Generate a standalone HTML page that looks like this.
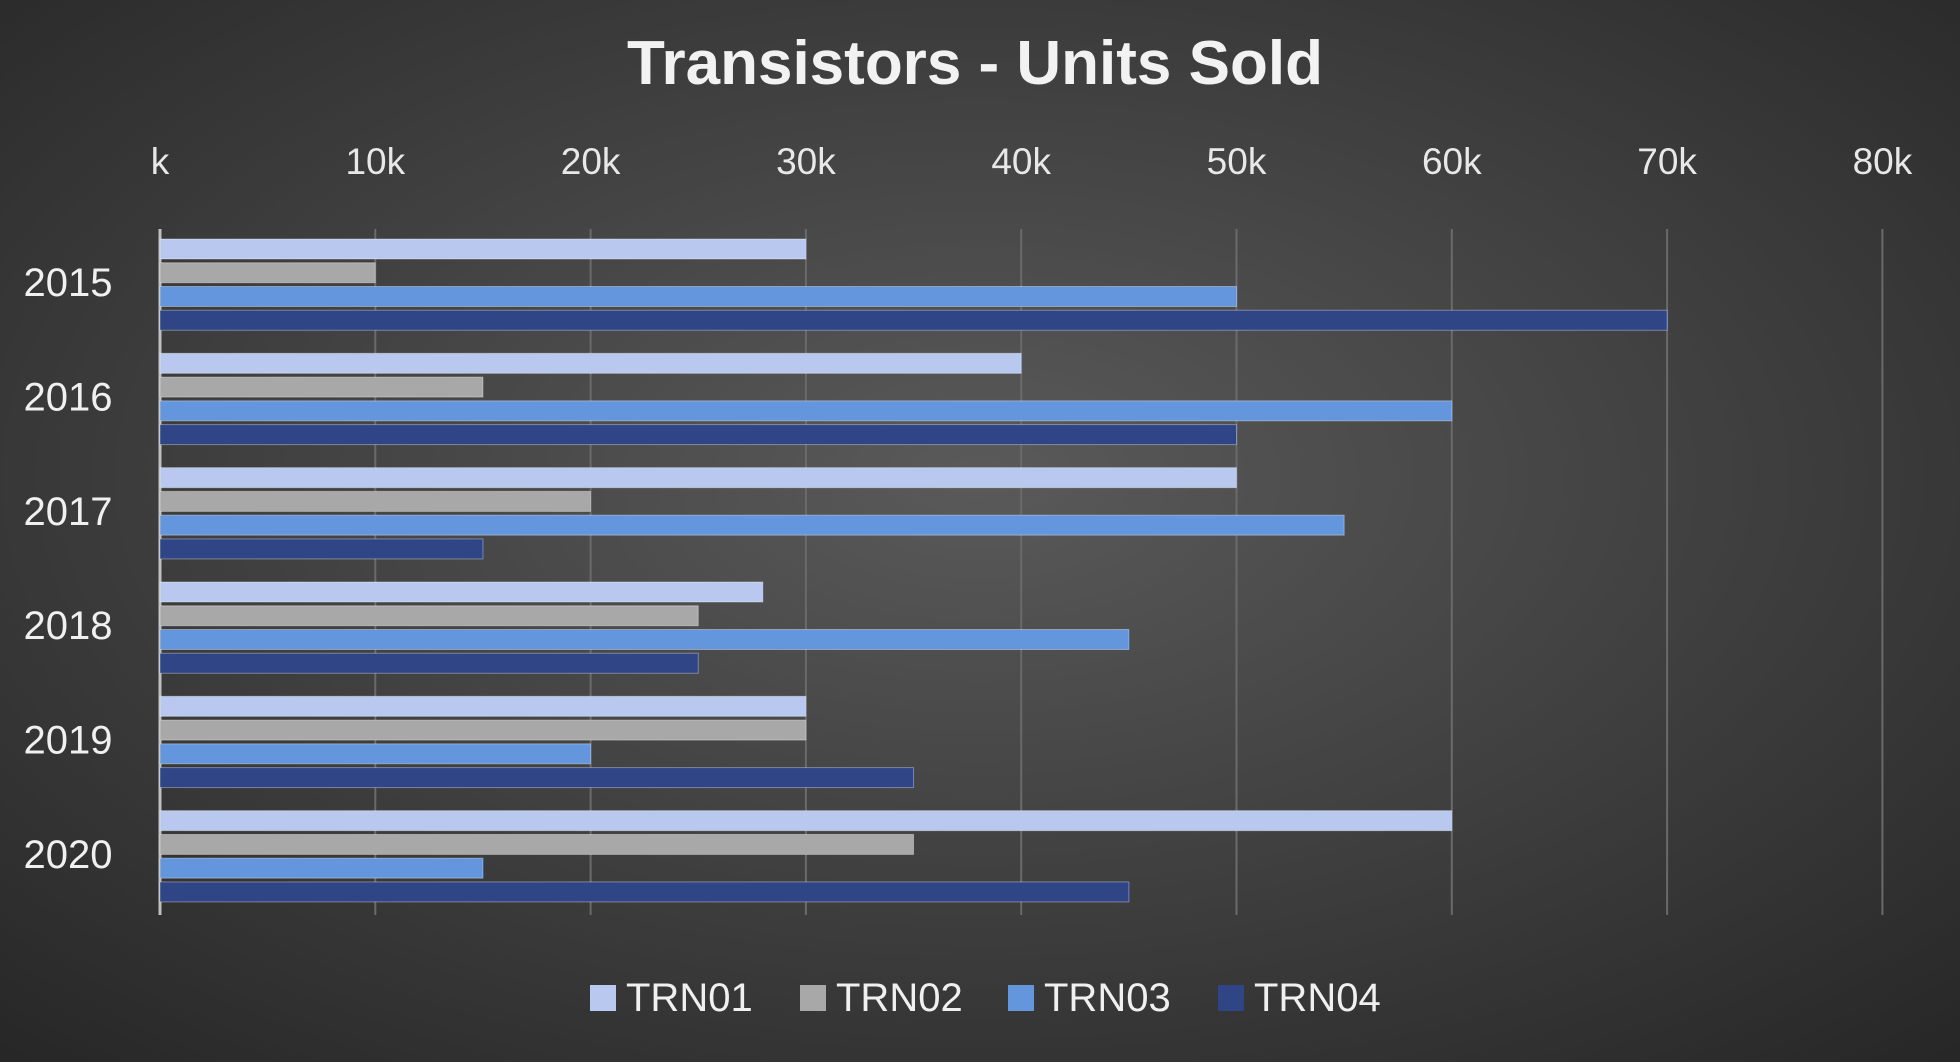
<!DOCTYPE html>
<html><head><meta charset="utf-8">
<style>
html,body{margin:0;padding:0;}
body{width:1960px;height:1062px;overflow:hidden;background:#333;}
svg{display:block;font-family:"Liberation Sans",sans-serif;}
</style></head>
<body>
<svg id="chart" width="1960" height="1062">
<defs>
<radialGradient id="bg" cx="50%" cy="45%" r="75%">
<stop offset="0" stop-color="#5a5a5a"/><stop offset="1" stop-color="#262626"/>
</radialGradient>
</defs>
<rect width="1960" height="1062" fill="url(#bg)"/>
<text x="975" y="84" text-anchor="middle" font-size="62" font-weight="bold" fill="#f2f2f2">Transistors - Units Sold</text>
<g id="grid"></g><g id="bars"></g><g id="labels"></g><g id="legend"></g>
</svg>
<script>
const categories = ["2015","2016","2017","2018","2019","2020"];
const seriesNames = ["TRN01","TRN02","TRN03","TRN04"];
const trn01 = [30,40,50,28,30,60];
const trn02 = [10,15,20,25,30,35];
const trn03 = [50,60,55,45,20,15];
const trn04 = [70,50,15,25,35,45];
const tickValues = [0,10,20,30,40,50,60,70,80];
const tickLabels = ["k","10k","20k","30k","40k","50k","60k","70k","80k"];
const colors = ["#b9c8ee","#a8a8a8","#6396dc","#2f4586"];
const series = [trn01,trn02,trn03,trn04];
const NS="http://www.w3.org/2000/svg";
const x0=160, xPer=215.3, yTop=229, yBottom=915;
const band=(yBottom-yTop)/categories.length;
function xs(v){return x0+v*xPer/10;}
function mk(t,a,p){const e=document.createElementNS(NS,t);for(const k in a)e.setAttribute(k,a[k]);p.appendChild(e);return e;}
const grid=document.getElementById('grid'),bars=document.getElementById('bars'),labels=document.getElementById('labels'),legend=document.getElementById('legend');
tickValues.forEach((v,i)=>{
  const l=mk('line',{x1:xs(v),x2:xs(v),y1:yTop,y2:yBottom,stroke:i==0?'#bfbfbf':'#6a6a6a','stroke-width':i==0?3:2},grid);
  
  
  const t=mk('text',{x:xs(v),y:174,'text-anchor':'middle','font-size':37,fill:'#e8e8e8'},labels);
  t.textContent=tickLabels[i];
  
  
});
categories.forEach((c,ci)=>{
  const bt=yTop+ci*band;
  const t=mk('text',{x:68,y:bt+band/2+10,'text-anchor':'middle','font-size':40,fill:'#f0f0f0'},labels);
  t.textContent=c;
  
  
  series.forEach((s,si)=>{
    const y=bt+10+si*23.75;
    const r=mk('rect',{x:x0,y:y,width:xs(s[ci])-x0,height:20,fill:colors[si],stroke:'rgba(255,255,255,0.35)','stroke-width':1},bars);
    
    
  });
});
const lx=[590,800,1008,1218];
seriesNames.forEach((n,i)=>{
  const r=mk('rect',{x:lx[i],y:985,width:26,height:26,fill:colors[i]},legend);
  
  
  const t=mk('text',{x:lx[i]+36,y:1011,'font-size':40,fill:'#f0f0f0'},legend);
  t.textContent=n;
  
  
});
</script>
</body></html>
